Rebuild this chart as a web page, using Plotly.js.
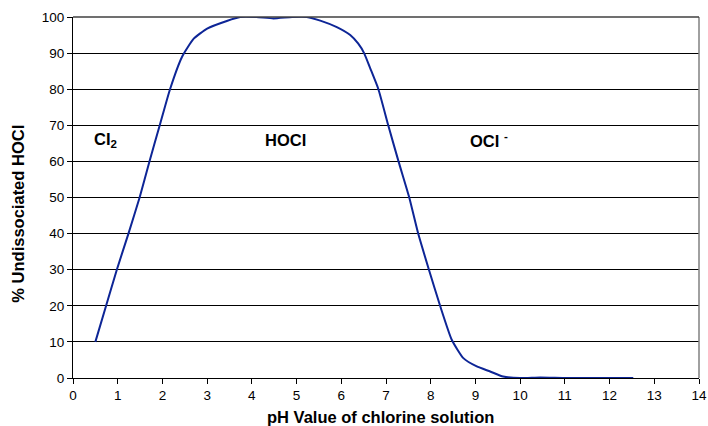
<!DOCTYPE html>
<html>
<head>
<meta charset="utf-8">
<script src="https://cdn.plot.ly/plotly-3.0.1.min.js"></script>
<style>html,body{margin:0;padding:0;background:#fff;}#chart{width:708px;height:426px;}</style>
</head>
<body>
<div id="chart"></div>
<script>
var phValues = [0.5, 0.74, 0.98, 1.24, 1.49, 1.71, 1.94, 2.17, 2.44, 2.7, 3.0, 3.44, 3.74, 4.1, 4.48, 4.9, 5.23, 5.53, 5.9, 6.2, 6.38, 6.51, 6.65, 6.83, 7.05, 7.28, 7.52, 7.72, 7.96, 8.21, 8.47, 8.73, 9.03, 9.33, 9.62, 10.0, 10.45, 11.04, 12.53];
var hoclPercent = [10, 20, 30, 40, 50, 60, 70, 80, 89, 94, 96.8, 98.9, 100, 100, 99.6, 100, 100, 99, 97.2, 95, 92.6, 90, 85.7, 80, 70, 60, 50, 40, 30, 20, 10.6, 5.5, 3.2, 1.8, 0.4, 0, 0.15, 0, 0];
var xTicks = [0,1,2,3,4,5,6,7,8,9,10,11,12,13,14];
var yTicks = [0,10,20,30,40,50,60,70,80,90,100];
var regionLabels = ['CI<sub>2</sub>', 'HOCI', 'OCI <sup>-</sup>'];
var regionX = [0.43, 4.25, 8.83];
var regionY = [66, 66, 66];
var xTitle = 'pH Value of chlorine solution';
var yTitle = '% Undissociated HOCl';

var font = 'Liberation Sans, Arial, sans-serif';
var trace = {
  x: phValues, y: hoclPercent, type: 'scatter', mode: 'lines',
  line: {color: '#0d2596', width: 2, shape: 'spline', smoothing: 0.5},
  hoverinfo: 'skip'
};
var annotations = regionLabels.map(function(t, i){
  return {x: regionX[i], y: regionY[i], xref: 'x', yref: 'y', text: '<b>' + t + '</b>',
    showarrow: false, xanchor: 'left', yanchor: 'middle',
    font: {family: font, size: 16.5, color: '#000'}};
});
annotations.push({x: 0.492, y: -0.107, xref: 'paper', yref: 'paper', text: '<b>' + xTitle + '</b>',
  showarrow: false, xanchor: 'center', yanchor: 'middle', font: {family: font, size: 16.5, color: '#000'}});
annotations.push({x: -0.088, y: 0.455, xref: 'paper', yref: 'paper', text: '<b>' + yTitle + '</b>',
  textangle: -90, showarrow: false, xanchor: 'center', yanchor: 'middle', font: {family: font, size: 16.5, color: '#000'}});

var layout = {
  width: 708, height: 426,
  margin: {l: 73, r: 9, t: 17, b: 48, pad: 0},
  paper_bgcolor: '#fff', plot_bgcolor: '#fff',
  showlegend: false,
  font: {family: font, size: 13.5, color: '#000'},
  xaxis: {
    range: [0, 14], tickvals: xTicks, ticktext: xTicks.map(String),
    showgrid: false, zeroline: false, showline: true, linecolor: '#000', linewidth: 1,
    ticks: 'outside', ticklen: 5, tickcolor: '#000', tickfont: {family: font, size: 13.5},
    fixedrange: true
  },
  yaxis: {
    range: [0, 100], tickvals: yTicks, ticktext: yTicks.map(String),
    showgrid: true, gridcolor: '#000', gridwidth: 1, zeroline: false,
    showline: true, linecolor: '#000', linewidth: 1,
    ticks: 'outside', ticklen: 5, tickcolor: '#000', tickfont: {family: font, size: 13.5},
    fixedrange: true
  },
  shapes: [
    {type: 'line', xref: 'paper', yref: 'paper', x0: 1, x1: 1, y0: 0, y1: 1, line: {color: '#808080', width: 1.5}},
    {type: 'line', xref: 'paper', yref: 'paper', x0: 0, x1: 1, y0: 1, y1: 1, line: {color: '#404040', width: 1.5}}
  ],
  annotations: annotations
};
Plotly.newPlot('chart', [trace], layout, {staticPlot: true, displayModeBar: false});
</script>
</body>
</html>
